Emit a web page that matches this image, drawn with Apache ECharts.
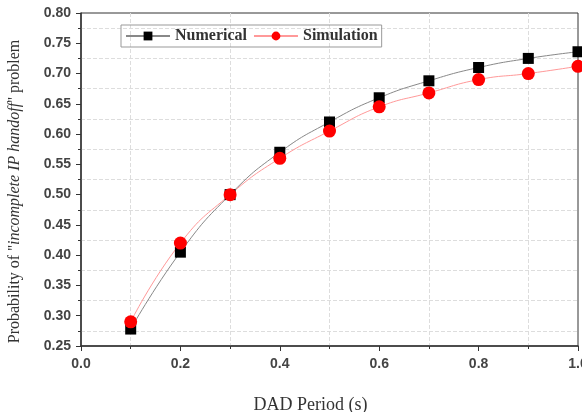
<!DOCTYPE html>
<html>
<head>
    <meta charset="utf-8"/>
    <title>DAD Period</title>
    <script src="https://cdn.jsdelivr.net/npm/echarts@6/dist/echarts.min.js"></script>
</head>
<body style="margin:0">
<div id="main" style="width: 582px; height: 412px"></div>
<script type="text/javascript">
    // data
    var periods = [0.1, 0.2, 0.3, 0.4, 0.5, 0.6, 0.7, 0.8, 0.9, 1.0];
    var numerical = [0.278, 0.405, 0.500, 0.570, 0.620, 0.660, 0.688, 0.710, 0.725, 0.736];
    var simulation = [0.290, 0.420, 0.500, 0.560, 0.605, 0.645, 0.668, 0.690, 0.700, 0.712];

    function pairs(ys) {
        return periods.map(function (x, i) { return [x, ys[i]]; });
    }

    var myChart = echarts.init(document.getElementById("main"));

    var axisLabelStyle = {
        color: '#444',
        fontFamily: 'Arial, Liberation Sans',
        fontWeight: 'bold',
        fontSize: 14
    };
    var serif = 'Liberation Serif, Times New Roman, serif';

    var option = {
        animation: false,
        backgroundColor: '#fff',
        grid: {
            left: 81, right: 4, top: 13, bottom: 66,
            outerBoundsMode: 'none',
            containLabel: false,
            show: true,
            borderColor: '#333',
            borderWidth: 1
        },
        legend: {
            left: 121,
            top: 25,
            padding: [3, 4, 3, 4],
            itemGap: 6,
            itemWidth: 44,
            itemHeight: 11,
            borderColor: '#999',
            borderWidth: 1,
            textStyle: {
                fontFamily: serif,
                fontSize: 16,
                fontWeight: 'bold',
                color: '#333'
            },
            data: ['Numerical', 'Simulation']
        },
        xAxis: {
            type: 'value',
            min: 0,
            max: 1,
            interval: 0.2,
            name: 'DAD Period (s)',
            nameLocation: 'middle',
            nameGap: 50,
            nameTextStyle: {
                fontFamily: serif,
                fontSize: 18,
                color: '#333',
                padding: [0, 38, 0, 0]
            },
            axisLine: {lineStyle: {color: '#333', width: 1.5}},
            axisTick: {show: true, inside: false, length: 5, lineStyle: {color: '#333'}},
            minorTick: {show: true, splitNumber: 2, length: 3, lineStyle: {color: '#333'}},
            splitLine: {show: false},
            minorSplitLine: {show: true, lineStyle: {color: '#ddd', type: 'dashed'}},
            axisLabel: Object.assign({margin: 11, formatter: function (v) { return v.toFixed(1); }}, axisLabelStyle)
        },
        yAxis: {
            type: 'value',
            min: 0.25,
            max: 0.80,
            interval: 0.05,
            name: "Probability of ''{i|incomplete IP handoff}'' problem",
            nameLocation: 'middle',
            nameGap: 58,
            nameTextStyle: {
                fontFamily: serif,
                fontSize: 16,
                color: '#333',
                padding: [0, 24, 0, 0],
                rich: {
                    i: {
                        fontFamily: serif,
                        fontSize: 16,
                        fontStyle: 'italic',
                        color: '#333'
                    }
                }
            },
            axisLine: {show: true, lineStyle: {color: '#333', width: 1.5}},
            axisTick: {show: true, inside: false, length: 5, lineStyle: {color: '#333'}},
            minorTick: {show: true, splitNumber: 2, length: 3, lineStyle: {color: '#333'}},
            splitLine: {show: false},
            minorSplitLine: {show: true, lineStyle: {color: '#ddd', type: 'dashed'}},
            axisLabel: Object.assign({margin: 10, formatter: function (v) { return v.toFixed(2); }}, axisLabelStyle)
        },
        series: [
            {
                name: 'Numerical',
                type: 'line',
                smooth: true,
                symbol: 'rect',
                symbolSize: 11,
                itemStyle: {color: '#000'},
                lineStyle: {color: '#888', width: 1},
                data: pairs(numerical)
            },
            {
                name: 'Simulation',
                type: 'line',
                smooth: true,
                symbol: 'circle',
                symbolSize: 13,
                itemStyle: {color: '#f00'},
                lineStyle: {color: '#f99', width: 1},
                data: pairs(simulation)
            }
        ]
    };

    myChart.setOption(option);
</script>
</body>
</html>
